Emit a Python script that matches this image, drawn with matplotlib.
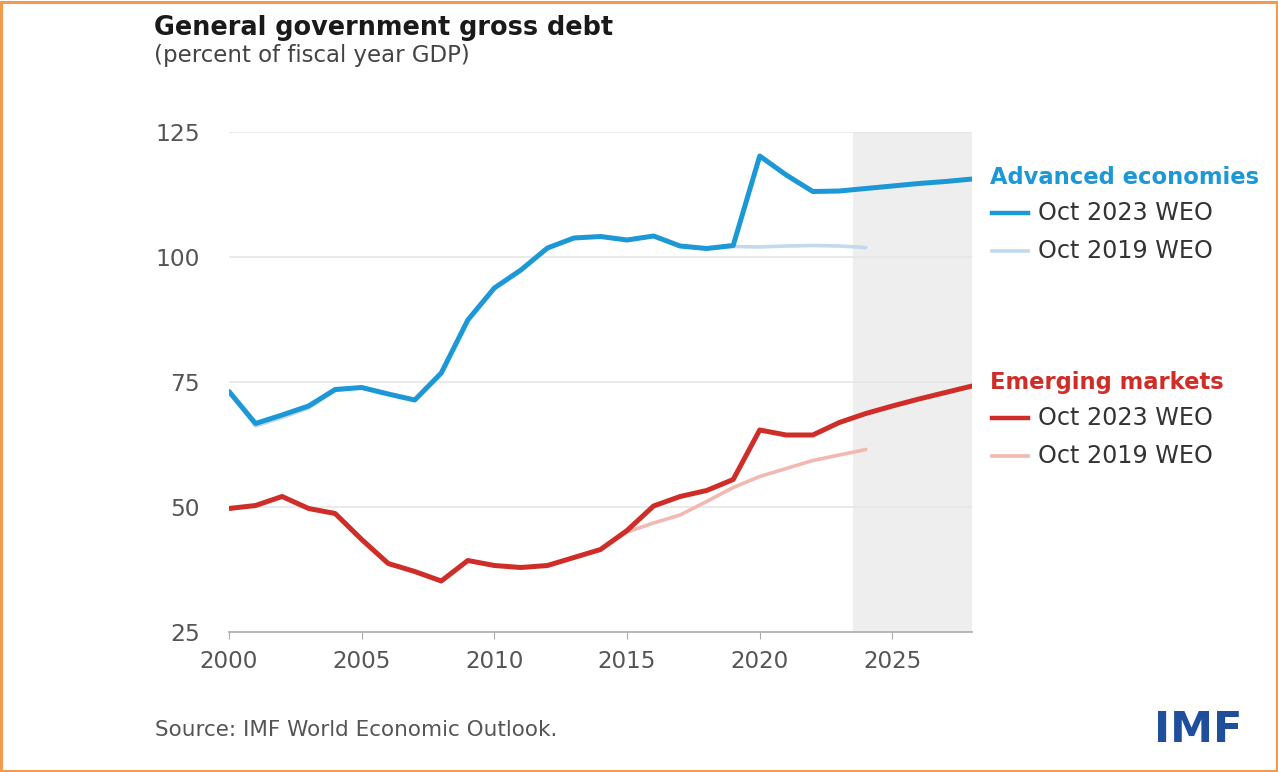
import matplotlib
matplotlib.use("Agg")
import matplotlib.pyplot as plt
from matplotlib.patches import Rectangle
from matplotlib.lines import Line2D

plt.rcParams['font.family'] = ['DejaVu Sans']

years_2023 = list(range(2000, 2029))
adv_2023 = [73.1, 66.7, 68.4, 70.2, 73.5, 73.9, 72.6, 71.4, 76.8, 87.4,
            93.8, 97.4, 101.8, 103.8, 104.1, 103.4, 104.2, 102.2, 101.7, 102.3,
            120.2, 116.4, 113.1, 113.2, 113.7, 114.2, 114.7, 115.1, 115.6]
em_2023 = [49.7, 50.3, 52.1, 49.7, 48.7, 43.5, 38.7, 37.1, 35.2, 39.3,
           38.3, 37.9, 38.3, 39.9, 41.5, 45.3, 50.2, 52.1, 53.3, 55.5,
           65.4, 64.4, 64.4, 66.9, 68.7, 70.2, 71.6, 72.9, 74.2]

years_2019 = list(range(2000, 2025))
adv_2019 = [73.1, 66.2, 67.9, 69.8, 73.3, 73.9, 72.6, 71.4, 76.8, 87.4,
            93.8, 97.4, 101.8, 103.8, 104.1, 103.4, 104.2, 102.2, 101.7, 102.1,
            102.0, 102.2, 102.3, 102.2, 101.9]
em_2019 = [49.7, 50.3, 52.1, 49.7, 48.7, 43.5, 38.7, 37.1, 35.2, 39.3,
           38.3, 37.9, 38.3, 39.9, 41.5, 45.0, 46.8, 48.4, 51.1, 53.9,
           56.1, 57.7, 59.3, 60.4, 61.5]

y_ticks = [25, 50, 75, 100, 125]
x_ticks = [2000, 2005, 2010, 2015, 2020, 2025]
projection_start = 2023.5

BLUE = '#1B98D5'
LBLUE = '#C3D9EE'
RED = '#CF2E28'
LRED = '#F2B8B2'
GRAY_TXT = '#555555'

W, H = 1278, 772
fig = plt.figure(figsize=(W / 100, H / 100), dpi=100)
fig.patch.set_facecolor('white')

def fy(px):
    return 1 - px / H

ax = fig.add_axes([229 / W, fy(632), (972 - 229) / W, 500 / H])
ax.set_xlim(2000, 2028)
ax.set_ylim(25, 125)

ax.add_patch(Rectangle((projection_start, 25), 2028 - projection_start, 100,
                       facecolor='#EEEEEE', edgecolor='none', zorder=0))
for v in y_ticks[1:]:
    ax.axhline(v, color='#E6E6E6', lw=1.2, zorder=1)

ax.plot(years_2019, adv_2019, color=LBLUE, lw=2.6, zorder=2, solid_capstyle='round')
ax.plot(years_2019, em_2019, color=LRED, lw=2.6, zorder=2, solid_capstyle='round')
ax.plot(years_2023, adv_2023, color=BLUE, lw=3.6, zorder=3, solid_capstyle='round')
ax.plot(years_2023, em_2023, color=RED, lw=3.6, zorder=3, solid_capstyle='round')

for s in ['top', 'right', 'left']:
    ax.spines[s].set_visible(False)
ax.spines['bottom'].set_color('#AAAAAA')
ax.spines['bottom'].set_linewidth(1.2)
ax.set_xticks(x_ticks)
ax.set_yticks(y_ticks)
ax.tick_params(axis='x', length=5, color='#AAAAAA', labelsize=16.6, labelcolor=GRAY_TXT, pad=8)
ax.tick_params(axis='y', length=0, labelsize=16.8, labelcolor=GRAY_TXT, pad=21)

# titles
fig.text(154 / W, fy(35), 'General government gross debt', fontsize=18.4,
         fontweight='bold', color='#1A1A1A', va='baseline', ha='left')
fig.text(154 / W, fy(62), '(percent of fiscal year GDP)', fontsize=16.5,
         color='#444444', va='baseline', ha='left')

# legend
def legend_block(head_base, title, color, c1, c2, row_bases, swatch_ys):
    fig.text(990 / W, fy(head_base), title, fontsize=16.3, fontweight='bold',
             color=color, va='baseline', ha='left')
    for sy, c, lw in zip(swatch_ys, (c1, c2), (3.2, 2.6)):
        fig.add_artist(Line2D([992 / W, 1028 / W], [fy(sy), fy(sy)], color=c, lw=lw,
                              transform=fig.transFigure))
    for rb, lab in zip(row_bases, ('Oct 2023 WEO', 'Oct 2019 WEO')):
        fig.text(1038 / W, fy(rb), lab, fontsize=17.2,
                 color='#333333', va='baseline', ha='left')

legend_block(184, 'Advanced economies', BLUE, BLUE, LBLUE, (220, 258), (213, 251))
legend_block(389, 'Emerging markets', RED, RED, LRED, (425, 463), (418, 456))

fig.text(155 / W, fy(736), 'Source: IMF World Economic Outlook.', fontsize=15.5,
         color='#555555', va='baseline', ha='left')
fig.text(1198 / W, fy(742), 'IMF', fontsize=31, fontweight='bold',
         color='#1F4F9C', va='baseline', ha='center')

fig.add_artist(Rectangle((0.001, 0.001), 0.998, 0.997, transform=fig.transFigure,
                         fill=False, edgecolor='#F39A4E', lw=2.2))

fig.savefig('out.png', dpi=100)
